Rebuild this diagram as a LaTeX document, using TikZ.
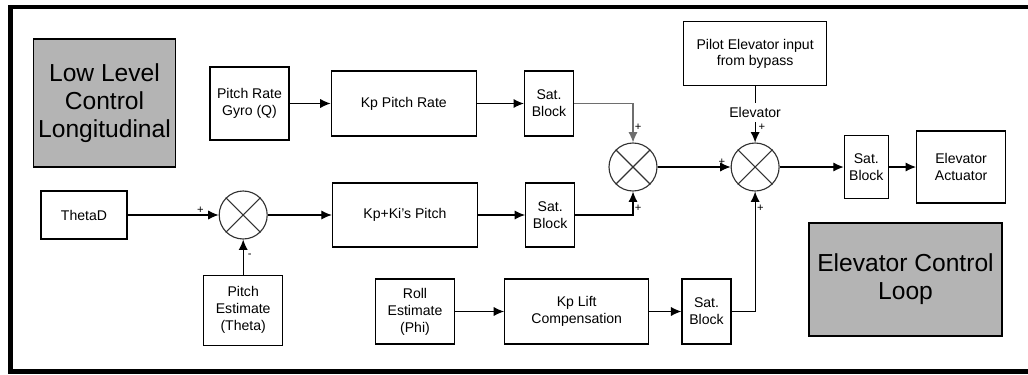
\documentclass[tikz,border=0pt]{standalone}
\usepackage{fontspec}
\setmainfont{Liberation Sans}
\usetikzlibrary{arrows.meta, positioning}
\definecolor{titlegray}{RGB}{180, 180, 180}
\definecolor{sumgray}{RGB}{50, 50, 50}
\definecolor{feedgray}{RGB}{110, 110, 110}
\tikzset{
  font=\fontsize{10}{12}\selectfont,
  blockbox/.style={
    rectangle, draw=black, line width=0.9pt, fill=white,
    align=center, inner sep=2pt
  },
  satbox/.style={blockbox, minimum width=1.225cm, minimum height=1.625cm},
  titlebox/.style={
    rectangle, draw=black, line width=0.9pt, fill=titlegray,
    align=center, font=\fontsize{17.5}{20}\selectfont
  },
  sumnode/.style={
    circle, draw=sumgray, line width=0.8pt, minimum size=1.2cm, inner sep=0pt
  },
  sumline/.style={draw=sumgray, line width=0.8pt},
  flowline/.style={
    draw=black, -{Latex[length=2.6mm, width=2.3mm]}, line width=0.8pt
  },
  signlabel/.style={font=\fontsize{8}{9}\selectfont, inner sep=1pt}
}

\begin{document}
\begin{tikzpicture}
  \useasboundingbox (0,0) rectangle (25.7,-9.35);

  % Outer frame
  \draw[line width=3pt] (25.9,-0.17) -- (0.26,-0.17) -- (0.26,-9.29) -- (25.9,-9.29);

  % Title boxes
  \node[titlebox, minimum width=3.325cm, minimum height=3.2cm] (lowlevel) at (2.6125,-2.575)
    {Low Level\\Control\\Longitudinal};
  \node[titlebox, minimum width=4.825cm, minimum height=2.825cm] (looptitle) at (22.6375,-6.9875)
    {Elevator Control\\Loop};

  % Pitch rate path
  \node[blockbox, minimum width=1.975cm, minimum height=1.825cm] (gyro) at (6.2375,-2.5875)
    {Pitch Rate\\Gyro (Q)};
  \node[blockbox, right=1.025cm of gyro, minimum width=3.625cm, minimum height=1.625cm] (kprate)
    {Kp Pitch Rate};
  \node[satbox, right=1.175cm of kprate] (sat_rate) {Sat.\\Block};

  % Pitch attitude path
  \node[blockbox, minimum width=2.15cm, minimum height=1.2cm] (thetad) at (2.1,-5.375) {ThetaD};
  \node[sumnode, right=2.275cm of thetad] (sum_pitch) {};
  \node[blockbox, below=0.875cm of sum_pitch, minimum width=1.975cm, minimum height=1.75cm] (pitchest)
    {Pitch\\Estimate\\(Theta)};
  \node[blockbox, right=1.6cm of sum_pitch, minimum width=3.625cm, minimum height=1.6cm] (kppitch)
    {Kp+Ki's Pitch};
  \node[satbox, right=1.175cm of kppitch, minimum height=1.6cm] (sat_pitch) {Sat.\\Block};

  % Summing junctions
  \node[sumnode] (sum_inner) at (15.825,-4.175) {};
  \node[sumnode, right=1.825cm of sum_inner] (sum_elev) {};
  \node[blockbox, above=1.4cm of sum_elev, minimum width=3.575cm, minimum height=1.6cm] (pilot)
    {Pilot Elevator input\\from bypass};

  % Output
  \node[satbox, right=1.6cm of sum_elev, minimum width=1.1cm, minimum height=1.575cm] (sat_out) {Sat.\\Block};
  \node[blockbox, right=0.675cm of sat_out, minimum width=2.225cm, minimum height=1.8cm] (actuator)
    {Elevator\\Actuator};

  % Lift compensation path
  \node[satbox] (sat_lift) at (17.6625,-7.7875) {Sat.\\Block};
  \node[blockbox, left=0.8cm of sat_lift, minimum width=3.6cm, minimum height=1.625cm] (kplift)
    {Kp Lift\\Compensation};
  \node[blockbox, left=1.225cm of kplift, minimum width=1.975cm, minimum height=1.625cm] (roll)
    {Roll\\Estimate\\(Phi)};

  % Crosses in summing junctions
  \foreach \s in {sum_pitch, sum_inner, sum_elev}
    \draw[sumline] (\s.north west) -- (\s.south east) (\s.north east) -- (\s.south west);

  % Connections
  \draw[flowline] (gyro) -- (kprate);
  \draw[flowline] (kprate) -- (sat_rate);
  \draw[flowline, draw=feedgray] (sat_rate) -| node[pos=0.8, right, signlabel] {+} (sum_inner);

  \draw[flowline] (thetad) -- node[pos=0.8, above, signlabel] {+} (sum_pitch);
  \draw[flowline] (pitchest) -- node[pos=0.55, right=2pt, signlabel] {-} (sum_pitch);
  \draw[flowline] (sum_pitch) -- (kppitch);
  \draw[flowline] (kppitch) -- (sat_pitch);
  \draw[flowline] (sat_pitch) -| node[pos=0.65, right, signlabel] {+} (sum_inner);

  \draw[flowline] (sum_inner) -- node[pos=0.88, above, signlabel] {+} (sum_elev);
  \draw[flowline] (pilot) -- node[pos=0.46, fill=white, inner sep=3pt] {Elevator}
    node[pos=0.72, right=1pt, signlabel] {+} (sum_elev);

  \draw[flowline] (roll) -- (kplift);
  \draw[flowline] (kplift) -- (sat_lift);
  \draw[flowline] (sat_lift) -| node[pos=0.93, right, signlabel] {+} (sum_elev);

  \draw[flowline] (sum_elev) -- (sat_out);
  \draw[flowline] (sat_out) -- (actuator);

\end{tikzpicture}
\end{document}
